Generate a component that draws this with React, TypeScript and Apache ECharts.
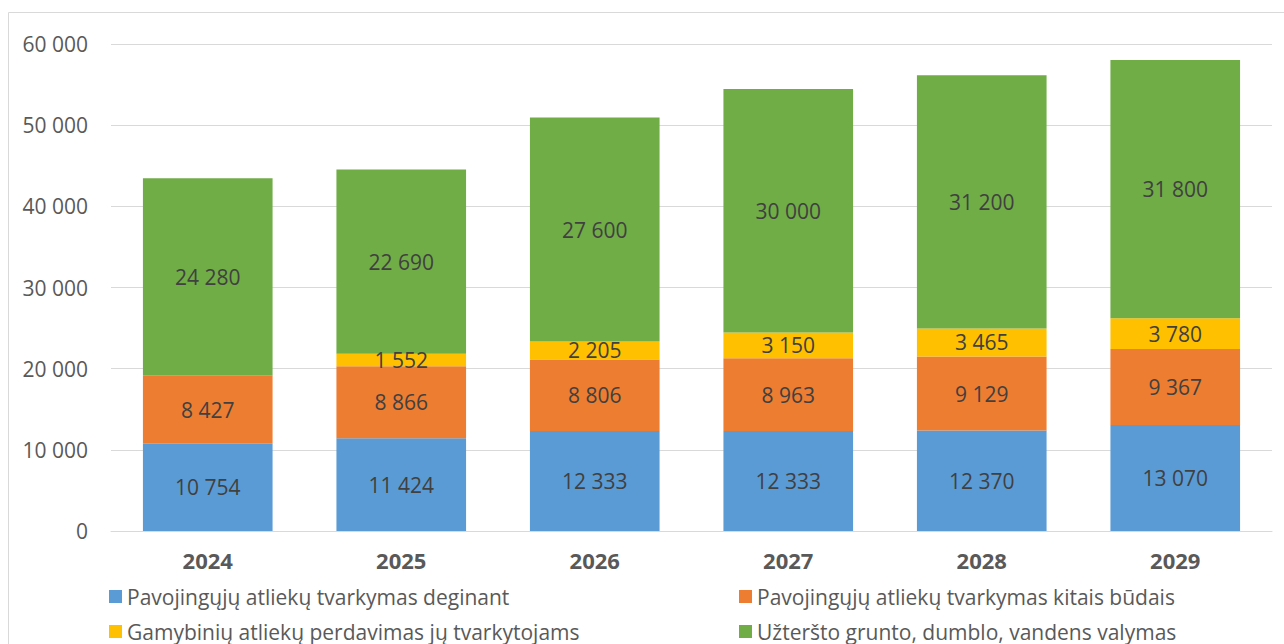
import React, { useEffect, useRef } from "react";
import * as echarts from "echarts";

const years = ["2024", "2025", "2026", "2027", "2028", "2029"];
const seriesNames = [
  "Pavojingųjų atliekų tvarkymas deginant",
  "Pavojingųjų atliekų tvarkymas kitais būdais",
  "Gamybinių atliekų perdavimas jų tvarkytojams",
  "Užteršto grunto, dumblo, vandens valymas",
];
const deginant = [10754, 11424, 12333, 12333, 12370, 13070];
const kitais = [8427, 8866, 8806, 8963, 9129, 9367];
const gamybiniu = [null, 1552, 2205, 3150, 3465, 3780];
const grunto = [24280, 22690, 27600, 30000, 31200, 31800];
const colors = ["#5b9bd5", "#ed7d31", "#ffc000", "#70ad47"];
const yTicks = { min: 0, max: 60000, interval: 10000 };

const fmt = (v: number) =>
  String(Math.round(v)).replace(/\B(?=(\d{3})+(?!\d))/g, " ");

const FONT = "'Open Sans', sans-serif";

export default function App() {
  const ref = useRef<HTMLDivElement>(null);
  useEffect(() => {
    if (!ref.current) return;
    const chart = echarts.init(ref.current, undefined, { renderer: "svg" });
    const datas = [deginant, kitais, gamybiniu, grunto];
    const legendPos = [
      { left: 104, top: 581 },
      { left: 734, top: 581 },
      { left: 104, top: 616 },
      { left: 734, top: 616 },
    ];
    chart.setOption({
      animation: false,
      textStyle: { fontFamily: FONT },
      graphic: [
        {
          type: "rect",
          shape: { x: 8.5, y: 12.5, width: 1400, height: 800 },
          style: { fill: "none", stroke: "#d9d9d9", lineWidth: 1 },
          silent: true,
        },
      ],
      grid: { left: 111, right: 12, top: 44, bottom: 113 },
      xAxis: {
        type: "category",
        data: years,
        axisLine: { lineStyle: { color: "#d9d9d9", width: 1 } },
        axisTick: { show: false },
        axisLabel: {
          color: "#595959",
          fontSize: 22,
          fontWeight: "bold",
          fontFamily: FONT,
          margin: 18,
        },
      },
      yAxis: {
        type: "value",
        min: yTicks.min,
        max: yTicks.max,
        interval: yTicks.interval,
        axisLine: { show: false },
        axisTick: { show: false },
        splitLine: { lineStyle: { color: "#d9d9d9", width: 1 } },
        axisLabel: {
          color: "#595959",
          fontSize: 21,
          fontFamily: FONT,
          margin: 23,
          formatter: (v: number) => fmt(v),
        },
      },
      legend: seriesNames.map((name, i) => ({
        data: [name],
        left: legendPos[i].left,
        top: legendPos[i].top,
        itemWidth: 13,
        itemHeight: 13,
        icon: "rect",
        textStyle: { color: "#595959", fontSize: 21, fontFamily: FONT },
      })),
      series: seriesNames.map((name, i) => ({
        name,
        type: "bar",
        stack: "total",
        data: datas[i],
        barCategoryGap: "33%",
        itemStyle: { color: colors[i] },
        label: {
          show: true,
          position: "inside",
          color: "#404040",
          fontSize: 21,
          fontFamily: FONT,
          formatter: (p: any) => (p.value == null ? "" : fmt(p.value)),
        },
      })),
    });
    return () => chart.dispose();
  }, []);
  return (
    <div
      ref={ref}
      style={{ position: "absolute", left: 0, top: 0, width: 1284, height: 644 }}
    />
  );
}
